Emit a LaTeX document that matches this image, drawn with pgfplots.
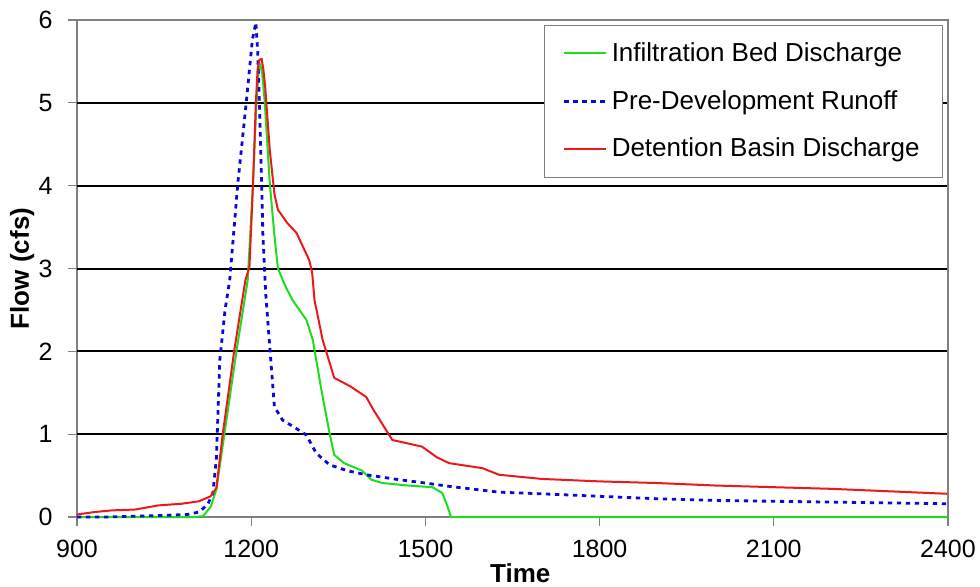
\documentclass[border=0pt]{standalone}
\usepackage{fontspec}
\setmainfont{Liberation Sans}
\usepackage{pgfplots}
\pgfplotsset{compat=1.18}

\definecolor{infgreen}{RGB}{30,220,30}
\definecolor{prebl}{RGB}{10,10,215}
\definecolor{detred}{RGB}{235,25,25}

\begin{document}
\begin{tikzpicture}
\begin{axis}[
    scale only axis,
    width=435.5pt, height=248.5pt,
    xmin=900, xmax=2400, ymin=0, ymax=6,
    xtick={900,1200,1500,1800,2100,2400},
    ytick={0,1,2,3,4,5,6},
    extra y ticks={1,2,3,4,5},
    extra y tick labels={},
    extra y tick style={grid=major, major tick length=0pt},
    major grid style={black, line width=1pt},
    axis line style={gray, line width=0.6pt},
    tick style={gray, line width=0.6pt},
    tick align=outside,
    major tick length=4.5pt,
    xtick pos=bottom, ytick pos=left,
    scaled x ticks=false,
    /pgf/number format/1000 sep={},
    /pgf/number format/assume math mode=true,
    tick label style={font=\fontsize{12.5}{14}\selectfont},
    x tick label style={anchor=north, inner sep=0pt, yshift=-7pt},
    y tick label style={anchor=east, inner sep=0pt, xshift=-7.5pt},
    xlabel={Time}, ylabel={Flow (cfs)},
    label style={font=\bfseries\fontsize{13}{15}\selectfont},
    xlabel style={at={(axis description cs:0.509,-0.1127)}, anchor=center},
    ylabel style={at={(axis description cs:-0.0631,0.5)}, anchor=center},
    clip=false,
    legend style={at={(1,1)}, anchor=north east, xshift=-2.5pt, yshift=-2.5pt,
        draw=gray, fill=white, font=\fontsize{13}{15}\selectfont,
        inner xsep=9.5pt, inner ysep=6.5pt, row sep=9pt,
        cells={anchor=west}},
    legend image code/.code={\draw[#1] (0pt,0pt) -- (21pt,0pt);},
]
% Infiltration Bed Discharge
\addplot[infgreen, line width=1pt] coordinates {
(900,0) (1100,0) (1117,0.01) (1130,0.12) (1140,0.33) (1154,1.01) (1175,2.02)
(1194,2.86) (1203,4.0) (1209,5.0) (1213,5.4) (1216,5.45) (1219,5.35) (1223,5.04)
(1232,4.03) (1240,3.4) (1246,3.0) (1258,2.8) (1271,2.62) (1295,2.38)
(1306,2.14) (1321,1.53) (1335,1.01) (1343,0.75) (1360,0.65) (1391,0.56)
(1407,0.45) (1426,0.41) (1470,0.38) (1512,0.36) (1529,0.29) (1537,0.15)
(1544,0) (2400,0)
};
\addlegendentry{Infiltration Bed Discharge}
% Pre-Development Runoff
\addplot[prebl, line width=1.4pt, dash pattern=on 2.2pt off 2.3pt] coordinates {
(900,0) (950,0) (1000,0.01) (1050,0.02) (1090,0.03) (1110,0.06) (1125,0.15)
(1134,0.29) (1140,0.7) (1146,1.9) (1155,2.5) (1163,2.86) (1177,4.03)
(1192,5.04) (1202,5.76) (1208,5.97) (1211,5.64) (1214,5.04) (1218,4.03)
(1220,3.43) (1225,2.7) (1232,2.05) (1240,1.33) (1254,1.17) (1275,1.08)
(1295,0.99) (1312,0.77) (1335,0.63) (1365,0.56) (1398,0.51) (1455,0.45)
(1500,0.41) (1541,0.37) (1627,0.30) (1700,0.28) (1800,0.25) (1900,0.22)
(2000,0.20) (2100,0.19) (2200,0.18) (2300,0.17) (2400,0.16)
};
\addlegendentry{Pre-Development Runoff}
% Detention Basin Discharge
\addplot[detred, line width=1pt] coordinates {
(900,0.03) (930,0.06) (960,0.08) (1000,0.09) (1040,0.14) (1080,0.16)
(1110,0.19) (1130,0.25) (1140,0.35) (1151,1.0) (1171,2.02) (1190,2.86)
(1197,3.02) (1203,4.0) (1208,5.0) (1211,5.4) (1214,5.52) (1218,5.53)
(1221,5.4) (1224,5.2) (1232,4.43) (1240,3.9) (1246,3.71) (1262,3.55)
(1278,3.43) (1300,3.1) (1305,2.95) (1309,2.62) (1323,2.14) (1343,1.68)
(1370,1.58) (1398,1.45) (1410,1.3) (1443,0.93) (1494,0.85) (1520,0.72)
(1541,0.65) (1598,0.59) (1627,0.51) (1700,0.46) (1800,0.43) (1900,0.41)
(2000,0.38) (2100,0.36) (2200,0.34) (2300,0.31) (2400,0.28)
};
\addlegendentry{Detention Basin Discharge}
% plot area border (top and right)
\draw[gray, line width=0.6pt] (rel axis cs:0,1) -- (rel axis cs:1,1) -- (rel axis cs:1,0);
\end{axis}
\pgfresetboundingbox
\path (current axis.south west) ++(-38.5pt,-34.5pt) rectangle ++(490pt,293pt);
\end{tikzpicture}
\end{document}
